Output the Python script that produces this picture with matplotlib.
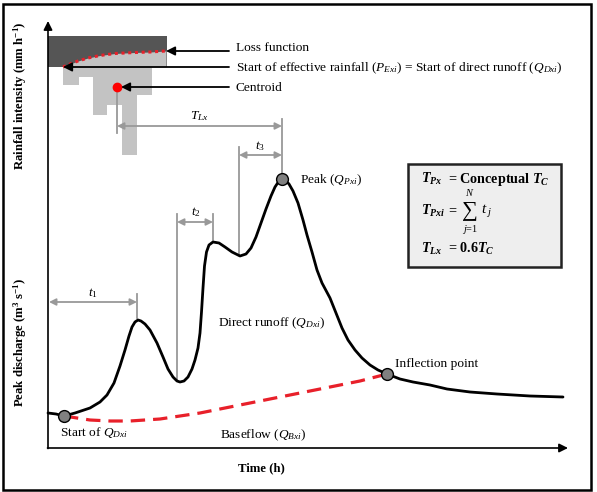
import matplotlib
matplotlib.use("Agg")
import matplotlib.pyplot as plt
from matplotlib.patches import Rectangle

plt.rcParams['font.family'] = ['Liberation Serif', 'DejaVu Serif']
plt.rcParams['mathtext.fontset'] = 'custom'
plt.rcParams['mathtext.rm'] = 'Liberation Serif'
plt.rcParams['mathtext.it'] = 'Liberation Serif:italic'
plt.rcParams['mathtext.bf'] = 'Liberation Serif:bold'
plt.rcParams['mathtext.bfit'] = 'Liberation Serif:bold:italic'

# ---------------- data (conceptual diagram, figure pixel units) ----------------
hydro_t = [48, 56, 64, 75, 90, 100, 107, 114, 120, 125, 129, 132, 135, 138, 141, 145, 150, 157,
           163, 168, 173, 177, 180, 184, 188, 192, 195, 198, 200, 201.5, 203, 204.5, 206.5, 209,
           213, 219, 225, 232, 240, 246, 251, 256, 261, 266, 271, 275, 279, 282, 285, 289, 293,
           298, 303, 307, 312, 317, 322, 330, 336, 342, 348, 355, 362, 370, 378, 387, 400, 413,
           430, 447, 470, 497, 530, 563]
hydro_q = [413, 414, 416, 413, 408, 402, 395, 383, 366, 350, 336, 327, 322, 320, 321, 324, 330, 343,
           357, 369, 377, 381, 382, 381, 377, 369, 360, 348, 333, 312, 288, 266, 252, 245,
           242, 243, 247, 252, 256, 254, 248, 237, 223, 209, 196, 187, 181, 179, 180, 184, 191,
           203, 220, 235, 252, 270, 283, 298, 313, 328, 340, 350, 358, 365, 370, 374, 379, 382,
           385, 389, 392, 394, 396, 397]
base_t = [64, 77, 90, 110, 130, 160, 200, 240, 280, 330, 360, 387]
base_q = [416, 418, 420, 421, 421, 419, 413, 405, 397, 387, 381, 374]

rain_left = [63, 79, 93, 107, 122, 137, 152]
rain_width = [16, 14, 14, 15, 15, 15, 15]
rain_depth = [85, 77, 115, 105, 155, 95, 67]
band_top, band_bottom = 36, 67
loss_t = [63, 70, 78, 88, 100, 115, 135, 150, 166]
loss_y = [67, 64, 61, 58, 55.5, 53.5, 52.5, 52, 51]

start_pt = (64, 416)
peak_pt = (282, 179)
infl_pt = (387, 374)
centroid_pt = (117, 87)

gray = '#999999'

fig = plt.figure(figsize=(5.97, 4.92), dpi=100)
ax = fig.add_axes([0, 0, 1, 1])
ax.set_xlim(0, 597)
ax.set_ylim(492, 0)
ax.axis('off')

# outer frame
ax.add_patch(Rectangle((2.5, 4), 588, 486, fill=False, lw=1.8, ec='black'))

# hyetograph
ax.bar(48, band_bottom - band_top, width=119, bottom=band_top, align='edge',
       color='#555555', lw=0)
ax.bar(rain_left, [d - band_bottom for d in rain_depth], width=rain_width,
       bottom=band_bottom, align='edge', color='#c3c3c3', lw=0)
ax.fill_between(loss_t, loss_y, band_bottom, color='#c3c3c3', lw=0)
ax.plot(loss_t, loss_y, color='#e8202a', ls=(0, (1, 1.2)), lw=2.2)

# axes arrows
ax.annotate('', xy=(48, 21), xytext=(48, 448.5),
            arrowprops=dict(arrowstyle='-|>', lw=1.2, color='black', mutation_scale=13,
                            shrinkA=0, shrinkB=0))
ax.annotate('', xy=(568, 448), xytext=(47.5, 448),
            arrowprops=dict(arrowstyle='-|>', lw=1.2, color='black', mutation_scale=13,
                            shrinkA=0, shrinkB=0))

# gray vertical reference lines
vlines = [(137, 294, 318), (177, 214, 380), (213, 214, 240), (239, 147, 254),
          (282, 119, 174), (117, 90, 133)]
for x, y0, y1 in vlines:
    ax.plot([x, x], [y0, y1], color=gray, lw=1.3)

def dim(x0, x1, y):
    ax.annotate('', xy=(x1, y), xytext=(x0, y),
                arrowprops=dict(arrowstyle='<|-|>', lw=1.3, color=gray, mutation_scale=10,
                                shrinkA=0, shrinkB=0))

dim(49, 137, 302)
dim(177, 213, 222)
dim(239, 282, 155)
dim(117, 282, 126)

fs = 9.6
ax.text(93, 293, r'$t_1$', fontsize=fs, ha='center', va='center')
ax.text(196, 212, r'$t_2$', fontsize=fs, ha='center', va='center')
ax.text(260, 146, r'$t_3$', fontsize=fs, ha='center', va='center')
ax.text(199, 116, r'$T_{Lx}$', fontsize=fs, ha='center', va='center')

# hydrograph
ax.plot(base_t, base_q, color='#e8202a', lw=2.3, ls=(0, (4.5, 2.5)))
ax.plot(hydro_t, hydro_q, color='black', lw=2.0, solid_joinstyle='round',
        solid_capstyle='round')
for p in (start_pt, peak_pt, infl_pt):
    ax.plot(*p, 'o', ms=8.5, mfc='#808080', mec='black', mew=1.0)
ax.plot(*centroid_pt, 'o', ms=6, mfc='#ff0000', mec='#ff0000')

# annotations on hyetograph
def pointer(y, x_tip):
    ax.annotate('', xy=(x_tip, y), xytext=(229, y),
                arrowprops=dict(arrowstyle='-|>', lw=1.3, color='black', mutation_scale=13,
                                shrinkA=0, shrinkB=0))

pointer(51, 166)
pointer(67, 63)
pointer(87, 121)
ax.text(236, 48, 'Loss function', fontsize=fs, va='center')
ax.text(236, 68, r'Start of effective rainfall ($P_{Exi}$) = Start of direct runoff ($Q_{Dxi}$)',
        fontsize=fs, va='center')
ax.text(236, 88, 'Centroid', fontsize=fs, va='center')

# hydrograph labels
ax.text(300, 180, r'Peak ($Q_{Pxi}$)', fontsize=fs, va='center')
ax.text(218, 323, r'Direct runoff ($Q_{Dxi}$)', fontsize=fs, va='center')
ax.text(395, 364, 'Inflection point', fontsize=fs, va='center')
ax.text(60, 433, r'Start of $Q_{Dxi}$', fontsize=fs, va='center')
ax.text(220, 435, r'Baseflow ($Q_{Bxi}$)', fontsize=fs, va='center')

# axis labels
ax.text(261, 468, 'Time (h)', fontsize=9.2, fontweight='bold', ha='center', va='center')
ax.text(20, 96, r'Rainfall intensity (mm h$^{\mathbf{-1}}$)', fontsize=9.2, fontweight='bold',
        rotation=90, ha='center', va='center')
ax.text(20, 342, r'Peak discharge (m$^{\mathbf{3}}$ s$^{\mathbf{-1}}$)', fontsize=9.2,
        fontweight='bold', rotation=90, ha='center', va='center')

# equation box
ax.add_patch(Rectangle((408, 164), 153, 103, fc='#eeeeee', ec='#222222', lw=1.8))
bfs = 10.2
ax.text(421, 179, r'$\mathbfit{T}_{\mathbfit{Px}}$', fontsize=bfs, va='center')
ax.text(448, 179, r'= Conceptual $\mathbfit{T}_{\mathbfit{C}}$', fontsize=bfs,
        fontweight='bold', va='center')
ax.text(421, 211, r'$\mathbfit{T}_{\mathbfit{Pxi}}$', fontsize=bfs, va='center')
ax.text(448, 211, '=', fontsize=bfs, fontweight='bold', va='center')
ax.text(470, 211, '\u2211', fontsize=16, ha='center', va='center')
ax.text(470, 193, r'$N$', fontsize=7.5, ha='center', va='center')
ax.text(470, 229, r'$j$=1', fontsize=7.5, ha='center', va='center')
ax.text(481, 211, r'$t_{\ j}$', fontsize=11, va='center')
ax.text(421, 249, r'$\mathbfit{T}_{\mathbfit{Lx}}$', fontsize=bfs, va='center')
ax.text(448, 249, r'= 0.6$\mathbfit{T}_{\mathbfit{C}}$', fontsize=bfs, fontweight='bold',
        va='center')

fig.savefig('out.png', dpi=100)
